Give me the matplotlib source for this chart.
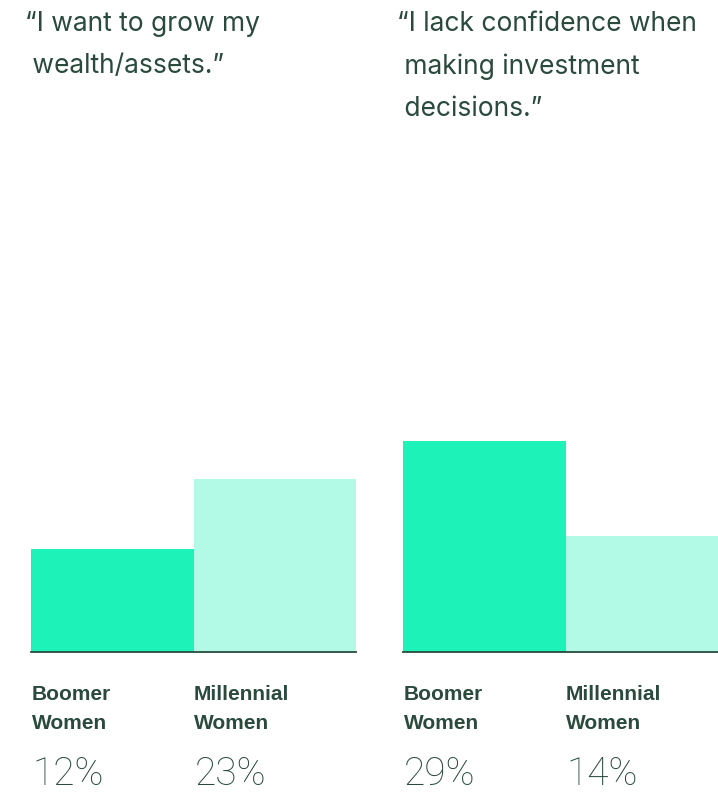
import matplotlib
matplotlib.use("Agg")
import matplotlib.pyplot as plt
import matplotlib.transforms as mtransforms

categories = ["Boomer\nWomen", "Millennial\nWomen"]
wealth_values = [12, 23]
confidence_values = [29, 14]
value_labels_wealth = ["12%", "23%"]
value_labels_conf = ["29%", "14%"]
titles = ["“I want to grow my\n wealth/assets.”",
          "“I lack confidence when\n making investment\n decisions.”"]

W, H = 718, 793
DARK = "#2a4a3d"
BRIGHT = "#1df2b8"
LIGHT = "#b2fae6"
Y_LOW, Y_HIGH = -4.22, 30.74

fig = plt.figure(figsize=(W / 100, H / 100), dpi=100)
fig.patch.set_facecolor("white")

def px_ax(x0, y_top, x1, y_bot):
    return fig.add_axes([x0 / W, 1 - y_bot / H, (x1 - x0) / W, (y_bot - y_top) / H])

panels = [
    (31, 356, 25, titles[0], wealth_values, value_labels_wealth),
    (403, 728, 397, titles[1], confidence_values, value_labels_conf),
]

for x0, x1, tx, title, vals, vlabels in panels:
    ax = px_ax(x0, 430, x1, 652)
    xs = list(range(len(categories)))
    ax.bar(xs, vals, width=1.0, align="edge", color=[BRIGHT, LIGHT],
           linewidth=0, bottom=0)
    ax.set_xlim(0, 2)
    ax.set_ylim(Y_LOW, Y_HIGH)
    # bars start at the baseline (axis bottom)
    for p in ax.patches:
        p.set_y(Y_LOW)
        p.set_height(p.get_height() - Y_LOW)
    for s in ["top", "right", "left"]:
        ax.spines[s].set_visible(False)
    ax.spines["bottom"].set_color(DARK)
    ax.spines["bottom"].set_linewidth(1.3)
    ax.set_xticks([])
    ax.set_yticks([])
    ax.patch.set_alpha(0)

    trans = mtransforms.blended_transform_factory(ax.transData, fig.transFigure)
    for i, (c, vl) in enumerate(zip(categories, vlabels)):
        ax.text(xs[i] + 0.003, 1 - 685 / H, c, transform=trans, ha="left", va="top",
                fontsize=15, fontweight="heavy", family="Liberation Sans",
                color=DARK, linespacing=1.65, clip_on=False)
        ax.text(xs[i] + 0.006, 1 - 785 / H, vl, transform=trans, ha="left", va="baseline",
                fontsize=28, fontweight="light", family="Roboto",
                color=DARK, clip_on=False)

    fig.text(tx / W, 1 - 11 / H, title, ha="left", va="top", fontsize=19,
             family="Inter", color=DARK, linespacing=1.8)

fig.savefig("out.png", dpi=100, facecolor="white")
